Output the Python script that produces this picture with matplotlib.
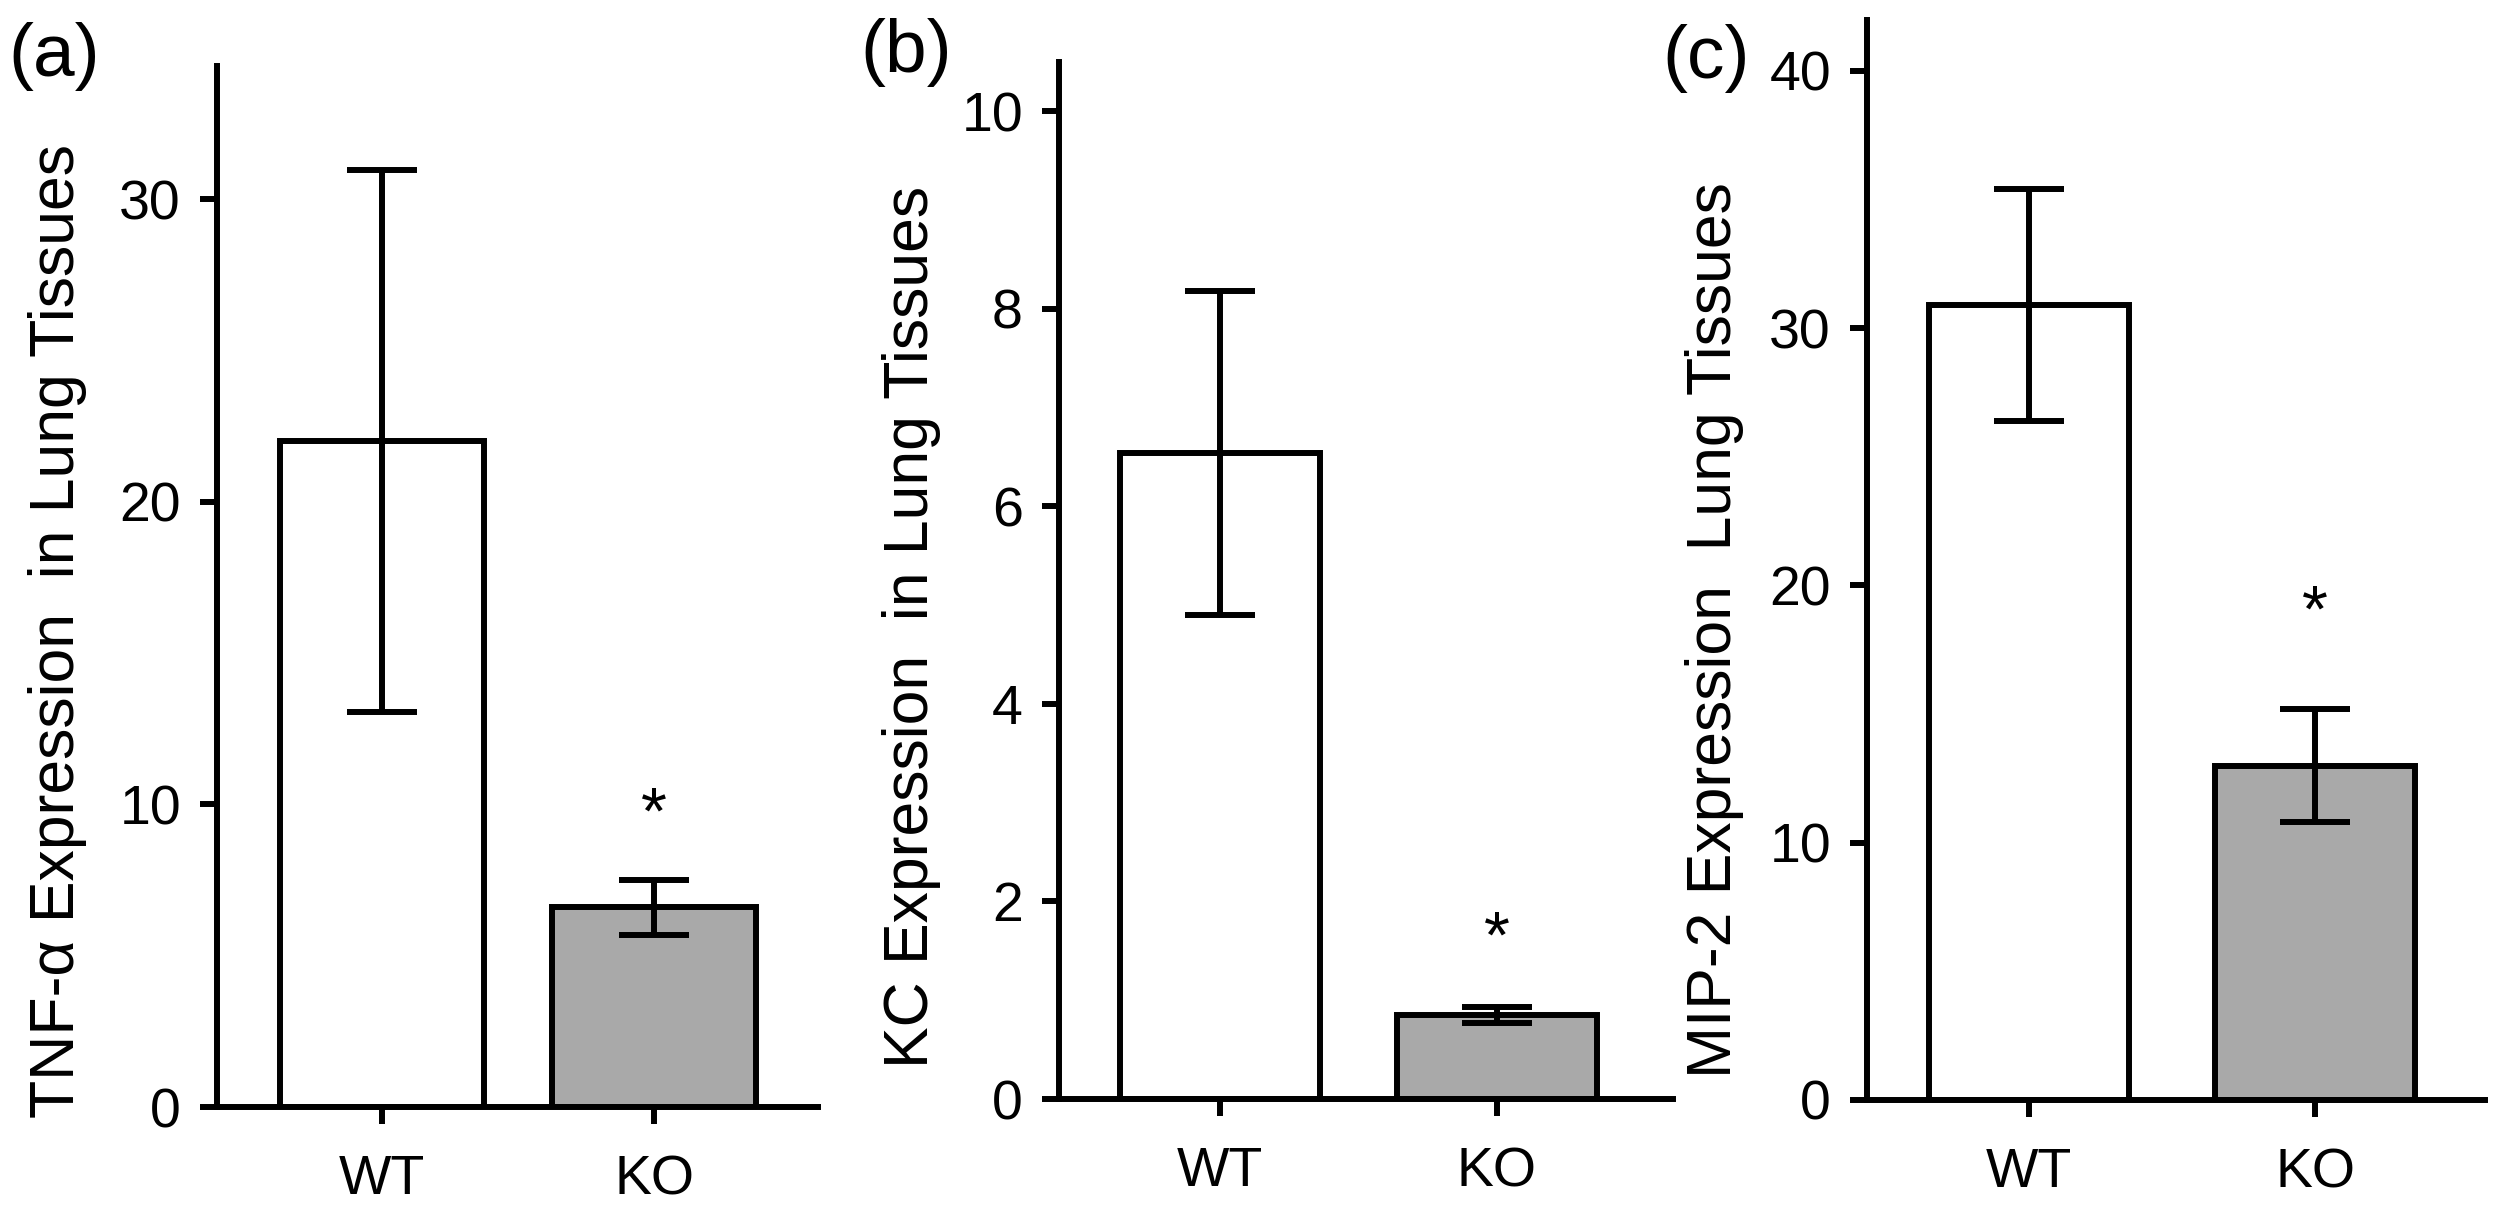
import matplotlib
matplotlib.use("Agg")
import matplotlib.pyplot as plt

plt.rcParams['font.family'] = ['Liberation Sans', 'DejaVu Sans']

groups = ['WT', 'KO']

# values
tnf_mean = [22.0, 6.6]
tnf_err = [8.95, 0.9]
kc_mean = [6.54, 0.85]
kc_err = [1.64, 0.08]
mip_mean = [30.9, 13.0]
mip_err = [4.5, 2.2]

star_y = [10.3, 1.82, 19.7]

ylabels = ['TNF-\u03b1 Expression  in Lung Tissues',
           'KC Expression  in Lung Tissues',
           'MIP-2 Expression  Lung Tissues']
panel_tags = ['(a)', '(b)', '(c)']
yticks = [[0, 10, 20, 30], [0, 2, 4, 6, 8, 10], [0, 10, 20, 30, 40]]
ylims = [34.4, 10.5, 42.0]

W, H = 2511, 1222
fig = plt.figure(figsize=(W / 100, H / 100), dpi=100)

# axes boxes in pixels: left, right, bottom(zero line), top
boxes = [(217, 818, 1107, 66), (1059, 1673, 1099, 62), (1867, 2485, 1100, 19.5)]
xlims = [(-0.607, 1.603), (-0.58, 1.635), (-0.566, 1.594)]
widths = [0.75, 0.72, 0.70]
label_xy = [(-0.216, 0.457), (-0.192, 0.455), (-0.199, 0.435)]
tag_xy = [(8, 76), (860, 72), (1662, 78)]

means = [tnf_mean, kc_mean, mip_mean]
errs = [tnf_err, kc_err, mip_err]

lw = 4.3
star_fs = 48
for i in range(3):
    l, r, b, t = boxes[i]
    ax = fig.add_axes([l / W, 1 - b / H, (r - l) / W, (b - t) / H])
    x = range(len(groups))
    ax.bar(x, means[i], width=widths[i], color=['white', '#a9a9a9'],
           edgecolor='black', linewidth=lw, zorder=2)
    ax.errorbar(x, means[i], yerr=errs[i], fmt='none', ecolor='black',
                elinewidth=lw, capsize=25, capthick=lw, zorder=3)
    ax.annotate('*', xy=(1, star_y[i]), xytext=(0, -0.58 * star_fs),
                textcoords='offset points', ha='center', va='baseline',
                fontsize=star_fs)
    ax.set_xlim(*xlims[i])
    ax.set_ylim(0, ylims[i])
    ax.set_xticks(list(x))
    ax.set_xticklabels(groups, fontsize=40)
    ax.set_yticks(yticks[i])
    for s in ['top', 'right']:
        ax.spines[s].set_visible(False)
    for s in ['left', 'bottom']:
        ax.spines[s].set_linewidth(lw)
    ax.tick_params(axis='both', direction='out', length=12, width=lw,
                   labelsize=40)
    ax.tick_params(axis='x', pad=22)
    ax.tick_params(axis='y', pad=14)
    ax.set_ylabel(ylabels[i], fontsize=45)
    ax.yaxis.set_label_coords(*label_xy[i])
    fig.text(tag_xy[i][0] / W, 1 - tag_xy[i][1] / H, panel_tags[i],
             fontsize=54, ha='left', va='baseline')

fig.savefig('out.png', dpi=100)
